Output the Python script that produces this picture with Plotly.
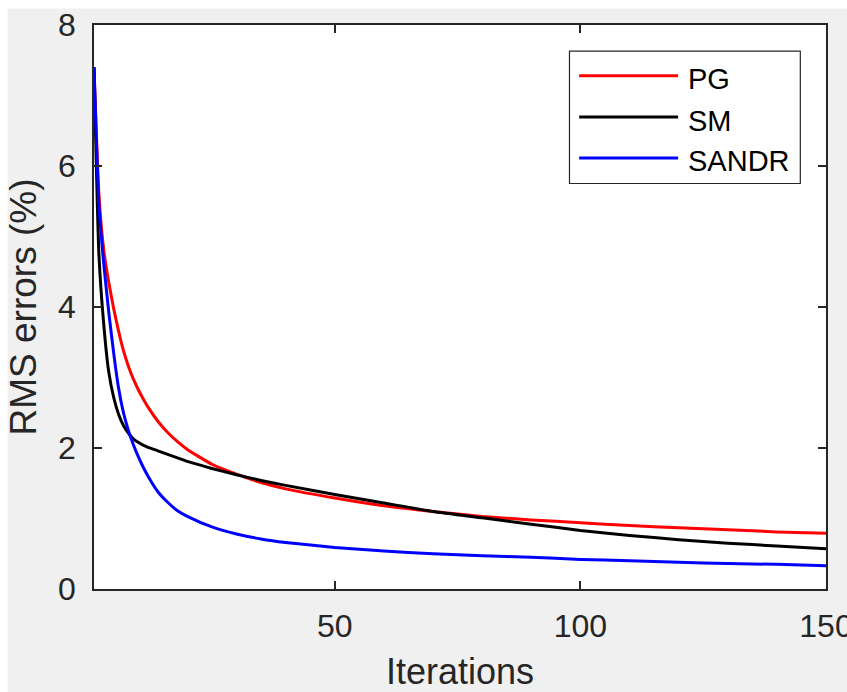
import plotly.graph_objects as go

# Iteration positions (x) and RMS error values (%)
iters = [1, 2, 3, 4, 5, 6, 7, 8, 9, 10, 11, 12, 14, 16, 18, 20, 25, 30, 35, 40,
         50, 60, 70, 80, 90, 100, 110, 120, 130, 140, 150]

pg = [7.40, 5.60, 4.80, 4.35, 3.98, 3.66, 3.38, 3.16, 2.98, 2.83, 2.70, 2.58, 2.38,
      2.22, 2.09, 1.98, 1.77, 1.63, 1.51, 1.42, 1.29, 1.18, 1.10, 1.03, 0.98,
      0.94, 0.90, 0.87, 0.84, 0.81, 0.79]

sm = [7.40, 4.75, 3.74, 3.08, 2.72, 2.48, 2.32, 2.21, 2.13, 2.08, 2.04, 2.01, 1.96,
      1.91, 1.86, 1.81, 1.71, 1.62, 1.54, 1.47, 1.34, 1.22, 1.10, 1.01, 0.92,
      0.83, 0.76, 0.70, 0.65, 0.61, 0.57]

sandr = [7.40, 5.45, 4.60, 3.93, 3.35, 2.85, 2.50, 2.25, 2.05, 1.88, 1.73, 1.60,
         1.38, 1.23, 1.11, 1.03, 0.88, 0.78, 0.71, 0.66, 0.59, 0.54, 0.50, 0.47,
         0.45, 0.42, 0.40, 0.38, 0.36, 0.35, 0.33]

series_names = ["PG", "SM", "SANDR"]
series_colors = ["#ff0000", "#000000", "#0000ff"]
x_ticks = [50, 100, 150]
y_ticks = [0, 2, 4, 6, 8]

FONT = "Liberation Sans, Arial, Helvetica, sans-serif"
AX = "#262626"

# plot-area geometry in pixels (for legend box placement)
L, R, T, B = 93.5, 826.0, 24.5, 589.5


def px(xp):
    return (xp - L) / (R - L)


def py(yp):
    return (B - yp) / (B - T)


fig = go.Figure()
for name, vals, col in zip(series_names, [pg, sm, sandr], series_colors):
    fig.add_trace(go.Scatter(x=iters, y=vals, mode="lines", name=name,
                             showlegend=False,
                             line=dict(color=col, width=3, shape="spline", smoothing=0.5)))

axis_common = dict(showgrid=False, zeroline=False, showline=True, linecolor=AX,
                   linewidth=1.5, mirror="ticks", ticks="inside", ticklen=8,
                   tickwidth=1.5, tickcolor=AX, ticklabeloverflow="allow",
                   tickfont=dict(family=FONT, size=32, color=AX))

fig.update_xaxes(range=[1, 150], tickvals=x_ticks, ticklabelstandoff=8,
                 title=dict(text="Iterations", standoff=16,
                            font=dict(family=FONT, size=36, color=AX)),
                 **axis_common)
fig.update_yaxes(range=[0, 8], tickvals=y_ticks, ticklabelstandoff=10,
                 title=dict(text="RMS errors (%)", standoff=10,
                            font=dict(family=FONT, size=37, color=AX)),
                 **axis_common)

# custom legend (MATLAB-style long line samples)
leg_line_y = [75.3, 116.7, 157.7]
leg_text_y = [79.0, 120.2, 161.2]
shapes = [
    dict(type="rect", xref="paper", yref="paper", x0=-0.1181, x1=1.03,
         y0=-0.19, y1=1.0292, fillcolor="#f0f0f0", line=dict(width=0),
         layer="below"),
    dict(type="rect", xref="paper", yref="paper", x0=0, x1=1, y0=0, y1=1,
         fillcolor="white", line=dict(width=0), layer="below"),
    dict(type="rect", xref="paper", yref="paper", x0=px(569.3), x1=px(800.3),
         y0=py(183.3), y1=py(50.7), fillcolor="white",
         line=dict(color=AX, width=1.2), layer="above"),
]
annotations = []
for name, col, ly, ty in zip(series_names, series_colors, leg_line_y, leg_text_y):
    shapes.append(dict(type="line", xref="paper", yref="paper",
                       x0=px(579), x1=px(678), y0=py(ly), y1=py(ly),
                       line=dict(color=col, width=3), layer="above"))
    annotations.append(dict(text=name, xref="paper", yref="paper",
                            x=px(686), y=py(ty), xanchor="left", yanchor="middle",
                            showarrow=False,
                            font=dict(family=FONT, size=29, color="black")))

fig.update_layout(
    width=847, height=692,
    margin=dict(l=L, r=847 - R, t=T, b=692 - B, autoexpand=False),
    paper_bgcolor="white", plot_bgcolor="white",
    showlegend=False,
    shapes=shapes,
    annotations=annotations,
)

fig.write_html("out.html")
